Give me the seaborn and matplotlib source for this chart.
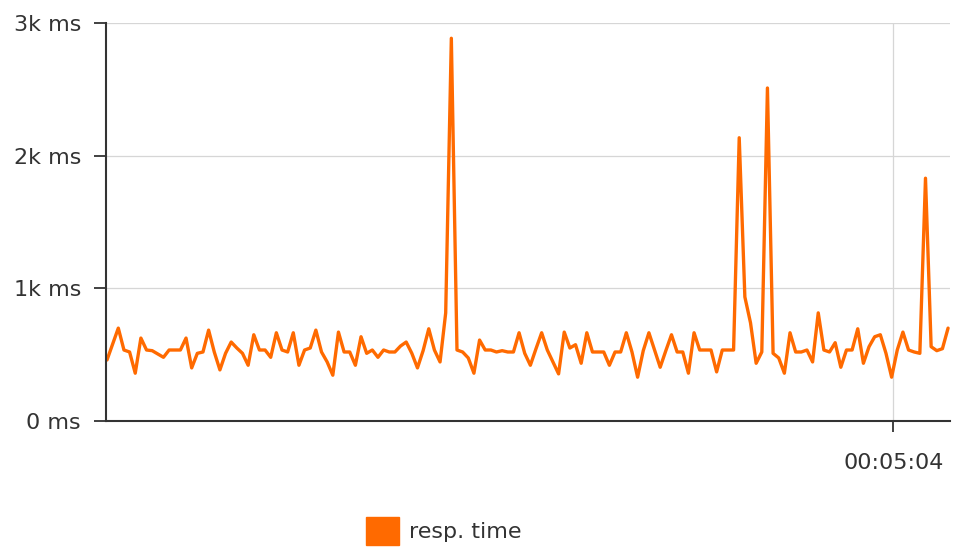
import matplotlib
matplotlib.use("Agg")
import matplotlib.pyplot as plt
import matplotlib.patches as mpatches
import seaborn as sns
import pandas as pd

# Tempo de resposta (ms) por amostra
resp_time = [460, 580, 700, 535, 520, 360, 625, 535, 530, 505,
             480, 535, 535, 535, 625, 400, 510, 520, 685, 520,
             385, 510, 595, 550, 510, 420, 650, 535, 535, 480,
             665, 535, 520, 665, 420, 535, 550, 685, 520, 445,
             345, 670, 520, 520, 420, 635, 510, 535, 480, 535,
             520, 520, 565, 595, 510, 400, 530, 695, 535, 445,
             815, 2885, 535, 520, 475, 360, 610, 535, 535, 520,
             530, 520, 520, 665, 510, 420, 545, 665, 535, 445,
             355, 670, 550, 575, 435, 665, 520, 520, 520, 420,
             520, 520, 665, 520, 330, 530, 665, 535, 405, 530,
             650, 520, 520, 360, 665, 535, 535, 535, 370, 535,
             535, 535, 2135, 935, 740, 435, 520, 2510, 510, 475,
             360, 665, 520, 520, 535, 445, 815, 535, 520, 590,
             405, 535, 535, 695, 435, 560, 635, 650, 510, 330,
             535, 670, 535, 520, 510, 1830, 560, 530, 545, 700]
amostra = list(range(len(resp_time)))

# Eixos
y_ticks = [0, 1000, 2000, 3000]
y_labels = ["0 ms", "1k ms", "2k ms", "3k ms"]
x_tick_pos = [139.3]
x_tick_labels = ["00:05:04"]

df = pd.DataFrame({"amostra": amostra, "resp. time": resp_time})

sns.set_style("white")
plt.rcParams["font.family"] = ["DejaVu Sans"]

cor_linha = "#FF6A00"
cor_texto = "#333333"

fig = plt.figure(figsize=(9.61, 5.48), dpi=100)
ax = fig.add_axes([0.1103, 0.2318, 0.8783, 0.7262])

sns.lineplot(data=df, x="amostra", y="resp. time", ax=ax, color=cor_linha,
             linewidth=2.4, legend=False)

ax.set_xlim(-0.18, 149.35)
ax.set_ylim(0, 3000)

ax.set_yticks(y_ticks)
ax.set_yticklabels(y_labels)
ax.set_xticks(x_tick_pos)
ax.set_xticklabels(x_tick_labels)

# Grade
ax.grid(True, color="#d6d6d6", linewidth=0.9)
ax.set_axisbelow(True)

for lado in ["top", "right"]:
    ax.spines[lado].set_visible(False)
for lado in ["left", "bottom"]:
    ax.spines[lado].set_color("#333333")
    ax.spines[lado].set_linewidth(1.5)

ax.tick_params(axis="y", length=9, width=1.3, color="#333333", pad=9,
               labelsize=16, labelcolor=cor_texto, left=True)
ax.tick_params(axis="x", length=8, width=1.3, color="#333333", pad=15,
               labelsize=16, labelcolor=cor_texto, bottom=True)

ax.set_xlabel("")
ax.set_ylabel("")

# Legenda
handle = mpatches.Patch(color=cor_linha, label="resp. time")
fig.legend(handles=[handle], loc="center left", bbox_to_anchor=(0.381, 0.031),
           frameon=False, fontsize=16, handlelength=1.5, handleheight=1.5,
           handletextpad=0.45, borderpad=0, borderaxespad=0,
           labelcolor=cor_texto)

fig.savefig("out.png", dpi=100)
